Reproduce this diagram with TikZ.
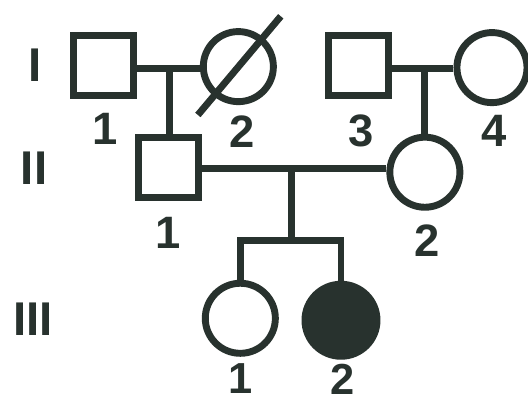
\documentclass[tikz,border=0pt]{standalone}
\usepackage{fontspec}
\setmainfont{Liberation Sans}
\usetikzlibrary{calc}
\definecolor{ink}{RGB}{40,50,46}
\begin{document}
\begin{tikzpicture}[x=1pt,y=1pt,
  every path/.style={line width=7pt, draw=ink},
  male/.style={draw=ink, line width=7pt, rectangle, minimum size=61pt, inner sep=0pt, fill=white},
  female/.style={draw=ink, line width=7pt, circle, minimum size=71pt, inner sep=0pt, fill=white},
  affected/.style={female, fill=ink, minimum size=73pt},
  lbl/.style={text=ink, font=\fontsize{46}{46}\selectfont\bfseries, inner sep=0pt, anchor=center},
  lowlbl/.style={lbl, font=\fontsize{44}{44}\selectfont\bfseries},
  gen/.style={lbl, font=\fontsize{48}{48}\selectfont\bfseries}]
\useasboundingbox (0,0) rectangle (528,-402);
\fill[white] (0,0) rectangle (528,-402);
% generation I
\node[male] (i1) at (101.5,-63) {};
\node[female] (i2) at (238,-64) {};
\node[male] (i3) at (360,-63) {};
\node[female] (i4) at (495,-65) {};
% generation II
\node[male] (ii1) at (167.5,-166) {};
\node[female] (ii2) at (427,-171) {};
% generation III
\node[female] (iii1) at (240,-319) {};
\node[affected] (iii2) at (342,-321) {};
% connectors
\coordinate (m1) at (168,-66);
\coordinate (m2) at (427,-66);
\coordinate (m3) at (292,-167);
\coordinate (m4) at (292,-240);
\draw (i1.east |- m1) -- (i2.west |- m1);
\draw (i3.east |- m2) -- (i4.west |- m2);
\draw (m1) -- (m1 |- ii1.north);
\draw (m2) -- (m2 |- ii2.north);
\draw (ii1.east |- m3) -- (ii2.west |- m3);
\draw (m3) -- (m4);
\draw[line join=miter] (iii1.north) |- (m4) -| (iii2.north);
% deceased slash
\coordinate (s1) at (197,-113);
\coordinate (s2) at (281,-13);
\draw (s1) -- (s2);
% generation labels
\node[gen] (gI) at (32,-63) {I};
\node[gen] (gII) at (31,-167) {II};
\node[gen] (gIII) at (30,-320) {III};
% individual labels
\node[lbl] (l11) at (103,-127) {1};
\node[lbl] (l12) at (242,-130) {2};
\node[lbl] (l13) at (362,-129) {3};
\node[lbl] (l14) at (497,-129) {4};
\node[lbl] (l21) at (167,-232) {1};
\node[lbl] (l22) at (429,-240) {2};
\node[lowlbl] (l31) at (240,-380.5) {1};
\node[lowlbl] (l32) at (344,-380.5) {2};
\end{tikzpicture}
\end{document}
